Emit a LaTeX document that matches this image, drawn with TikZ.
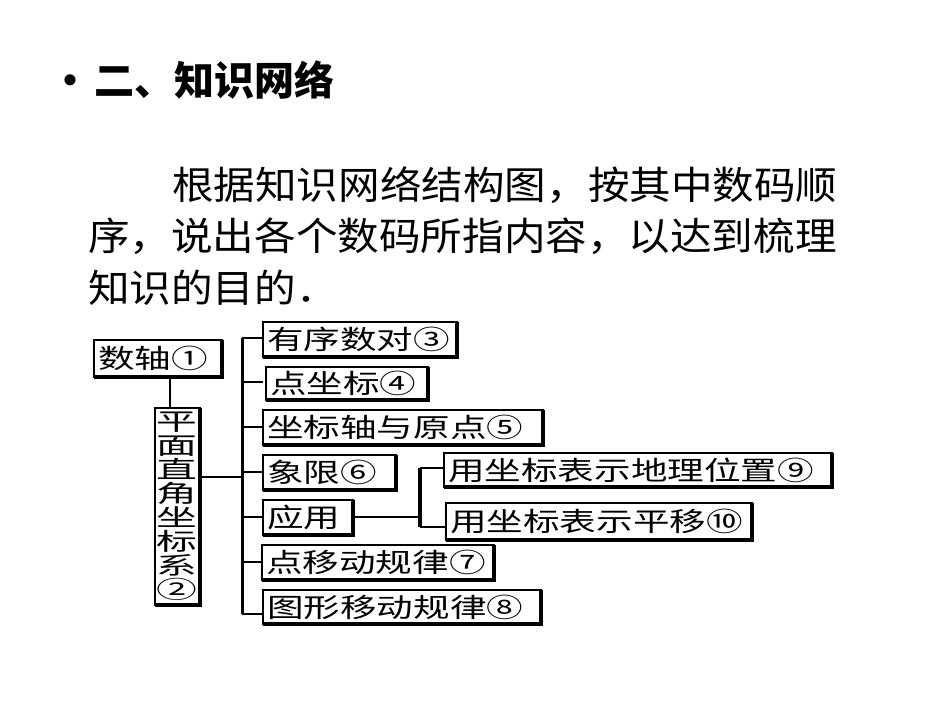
\documentclass[tikz,border=0pt]{standalone}
\usepackage{fontspec}
\setmainfont{Noto Sans CJK SC}
\newfontfamily\boxfont[FakeStretch=1.38]{Noto Sans CJK SC}
\newfontfamily\colfont[FakeStretch=1.7]{Noto Sans CJK SC}
\newfontfamily\parafont[FakeStretch=1.08]{Noto Sans CJK SC}
\begin{document}
\begin{tikzpicture}[x=1pt,y=-1pt,
  ln/.style={line width=2pt},
  para/.style={anchor=west,font=\parafont\fontsize{38.5}{38.5}\selectfont,inner sep=0pt}]
\useasboundingbox (0,0) rectangle (950,713);
\node[anchor=west,inner sep=0pt,font=\fontsize{40}{40}\selectfont\bfseries] (title) at (50,80) {•\hspace{4pt}二、知识网络};
\node[para] (p1) at (172,185) {根据知识网络结构图，按其中数码顺};
\node[para] (p2) at (88,236) {序，说出各个数码所指内容，以达到梳理};
\node[para] (p3) at (88,288) {知识的目的．};
\newcommand\mybox[6]{%
  \draw[line width=1.5pt] (#1,#2) rectangle (#3,#4);
  \draw[line width=4pt] (#1,#4) -- (#3,#4) -- (#3,#2);
  \node[anchor=west,font=\boxfont\fontsize{26.5}{26.5}\selectfont,inner sep=0pt] (#5) at (#1+4,{(#2+#4)/2}) {#6};}
\mybox{94}{340}{222}{377}{n1}{数轴①}
\draw[line width=1.5pt] (155,408) rectangle (200,605);
\draw[line width=4pt] (155,605) -- (200,605) -- (200,408);
\node[font=\colfont\fontsize{24}{24}\selectfont,inner sep=0pt,align=center] (n2) at (177,506) {平\\面\\直\\角\\坐\\标\\系\\②};
\coordinate (bt) at (242,338); \coordinate (bb) at (242,614);
\draw[ln] (170,377) -- (170,408);
\draw[line width=3pt] (bt) -- (bb);
\draw[ln] (200,477) -- (242,477);
\mybox{263}{322}{457}{357}{n3}{有序数对③}
\mybox{266}{367}{428}{400}{n4}{点坐标④}
\mybox{263}{410}{543}{445}{n5}{坐标轴与原点⑤}
\mybox{263}{455}{396}{490}{n6}{象限⑥}
\mybox{263}{500}{353}{535}{ny}{应用}
\mybox{262}{545}{494}{580}{n7}{点移动规律⑦}
\mybox{263}{590}{541}{624}{n8}{图形移动规律⑧}
\mybox{444}{453}{832}{487}{n9}{用坐标表示地理位置⑨}
\mybox{446}{503}{752}{540}{n10}{用坐标表示平移⑩}
\foreach \y in {338,382,427,472,517,562,614} \draw[ln] (242,\y) -- (263,\y);
\draw[line width=3.5pt] (420,468) -- (420,527);
\draw[ln] (353,517) -- (420,517);
\draw[ln] (420,468) -- (444,468);
\draw[ln] (420,527) -- (446,527);
\end{tikzpicture}
\end{document}
